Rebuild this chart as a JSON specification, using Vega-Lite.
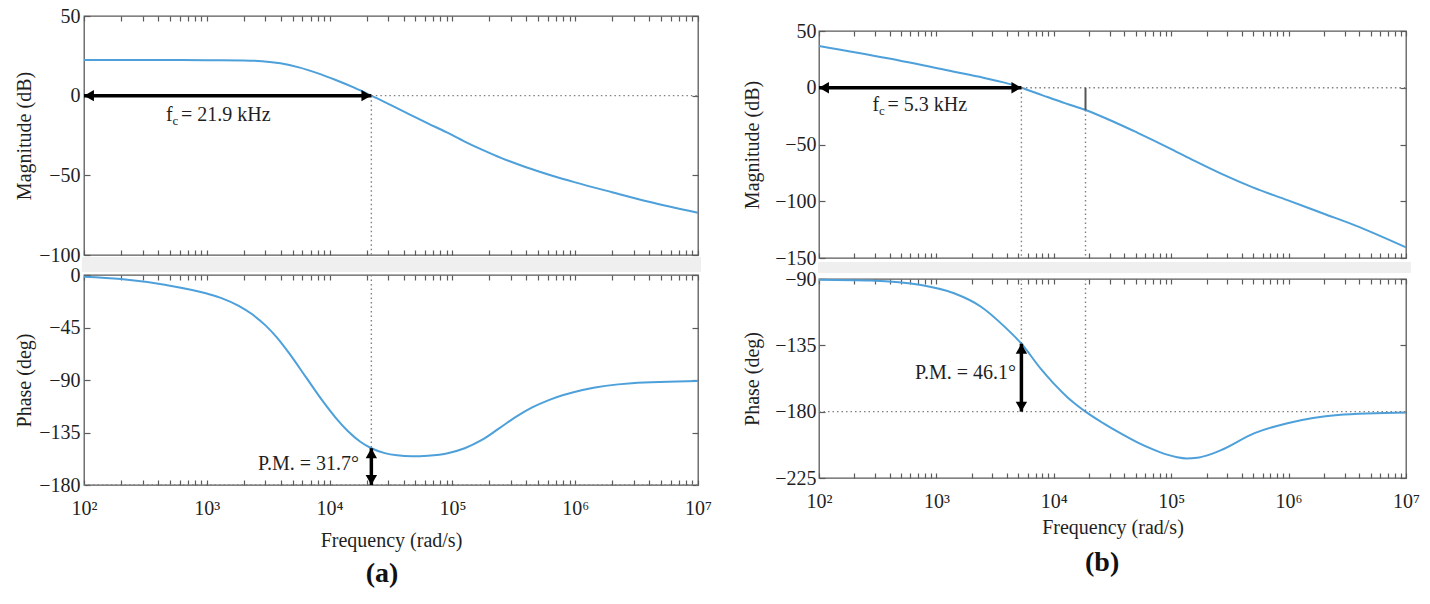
{
"$schema": "https://vega.github.io/schema/vega-lite/v6.json",
"padding": {"left": 14, "top": 5, "right": 5, "bottom": 5},
"background": "white",
"config": {
  "font": "Liberation Serif",
  "view": {"stroke": "#5a5a5a", "strokeWidth": 1.3},
  "axis": {"domain": false, "grid": false, "labelFontSize": 20, "titleFontSize": 20, "titleFontWeight": "normal", "labelColor": "#1f1f1f", "titleColor": "#1f1f1f", "tickColor": "#5a5a5a", "tickWidth": 1.2, "labelFont": "Liberation Serif", "titleFont": "Liberation Serif"},
  "text": {"font": "Liberation Serif"}
},
"datasets": {
  "magA": [
    {"f": 100, "v": 22.4}, {"f": 316, "v": 22.4}, {"f": 1000, "v": 22.3}, {"f": 1995, "v": 22.1}, {"f": 2818, "v": 21.65}, {"f": 3981, "v": 20.3}, {"f": 5623, "v": 17.75}, {"f": 7943, "v": 14.15}, {"f": 11220, "v": 9.8}, {"f": 15849, "v": 5.0}, {"f": 21878, "v": 0}, {"f": 31623, "v": -6.0}, {"f": 44668, "v": -11.7}, {"f": 63096, "v": -17.4}, {"f": 89125, "v": -22.9}, {"f": 125893, "v": -28.8}, {"f": 177828, "v": -34.2}, {"f": 251189, "v": -39.2}, {"f": 398107, "v": -44.9}, {"f": 630957, "v": -49.9}, {"f": 1000000, "v": -54.4}, {"f": 1995262, "v": -60.6}, {"f": 3981072, "v": -66.6}, {"f": 10000000, "v": -73.5}
  ],
  "phA": [
    {"f": 100, "v": -1.4}, {"f": 200, "v": -3.4}, {"f": 468, "v": -8.6}, {"f": 1000, "v": -15.9}, {"f": 1349, "v": -20.2}, {"f": 1820, "v": -26.4}, {"f": 2344, "v": -33.7}, {"f": 3020, "v": -43.4}, {"f": 3715, "v": -53.5}, {"f": 4677, "v": -67}, {"f": 6457, "v": -88}, {"f": 8710, "v": -107.5}, {"f": 11220, "v": -122.4}, {"f": 14125, "v": -133.9}, {"f": 17783, "v": -142.9}, {"f": 21878, "v": -148.5}, {"f": 28184, "v": -152.7}, {"f": 35481, "v": -154.6}, {"f": 46774, "v": -155.4}, {"f": 63096, "v": -154.9}, {"f": 93325, "v": -152.5}, {"f": 125893, "v": -148.5}, {"f": 173780, "v": -141.4}, {"f": 239883, "v": -131.5}, {"f": 331131, "v": -121.4}, {"f": 446684, "v": -113.5}, {"f": 616595, "v": -107}, {"f": 1148154, "v": -98.6}, {"f": 2884032, "v": -92.8}, {"f": 10000000, "v": -90.9}
  ],
  "magB": [
    {"f": 100, "v": 36.8}, {"f": 385, "v": 25.9}, {"f": 1413, "v": 14.1}, {"f": 2512, "v": 8.8}, {"f": 3802, "v": 4.5}, {"f": 5297, "v": 0}, {"f": 7943, "v": -6.5}, {"f": 12589, "v": -13.8}, {"f": 18621, "v": -19.6}, {"f": 31623, "v": -29.5}, {"f": 51286, "v": -39.5}, {"f": 100000, "v": -54}, {"f": 158489, "v": -64.5}, {"f": 263027, "v": -75.5}, {"f": 501187, "v": -88}, {"f": 977237, "v": -99}, {"f": 1995262, "v": -111}, {"f": 3630781, "v": -121}, {"f": 10000000, "v": -140.6}
  ],
  "phB": [
    {"f": 100, "v": -90.5}, {"f": 275, "v": -91.1}, {"f": 741, "v": -94.1}, {"f": 1413, "v": -99.7}, {"f": 2399, "v": -108.8}, {"f": 3802, "v": -122.3}, {"f": 5297, "v": -133.9}, {"f": 7762, "v": -151}, {"f": 10000, "v": -161}, {"f": 13183, "v": -170.5}, {"f": 15849, "v": -175.8}, {"f": 18621, "v": -180}, {"f": 26303, "v": -187.8}, {"f": 37154, "v": -194.8}, {"f": 52481, "v": -201.2}, {"f": 70795, "v": -205.8}, {"f": 89125, "v": -208.8}, {"f": 112202, "v": -210.9}, {"f": 134896, "v": -211.7}, {"f": 165959, "v": -211.3}, {"f": 208930, "v": -209.3}, {"f": 263027, "v": -206.3}, {"f": 512861, "v": -194.6}, {"f": 977237, "v": -187.8}, {"f": 2630268, "v": -182.2}, {"f": 10000000, "v": -180.5}
  ]
},
"hconcat": [
  {
    "title": {"text": "(a)", "orient": "bottom", "anchor": "middle", "frame": "bounds", "fontSize": 28, "fontWeight": "bold", "font": "Liberation Serif", "color": "#111111", "offset": 9, "dx": 19},
    "bounds": "flush",
    "spacing": 20,
    "vconcat": [
      {
        "width": 614, "height": 239,
        "layer": [
          {"data": {"values": [{"f": 96, "f2": 10580000, "v": -101.3, "v2": -110.7}]},
           "mark": {"type": "rect", "color": "#efefef"},
           "encoding": {"x": {"field": "f", "type": "quantitative", "scale": {"type": "log", "domain": [100, 10000000], "nice": false}, "axis": null}, "x2": {"field": "f2"}, "y": {"field": "v", "type": "quantitative", "scale": {"domain": [-100, 50], "nice": false}, "axis": null}, "y2": {"field": "v2"}}},
          {"data": {"name": "magA"},
           "mark": {"type": "line", "color": "#4DA0DA", "strokeWidth": 2, "interpolate": "monotone"},
           "encoding": {
             "x": {"field": "f", "type": "quantitative", "scale": {"type": "log", "domain": [100, 10000000], "nice": false}, "axis": {"orient": "bottom", "values": [100,200,300,400,500,600,700,800,900,1000,2000,3000,4000,5000,6000,7000,8000,9000,10000,20000,30000,40000,50000,60000,70000,80000,90000,100000,200000,300000,400000,500000,600000,700000,800000,900000,1000000,2000000,3000000,4000000,5000000,6000000,7000000,8000000,9000000,10000000], "labels": false, "tickSize": -5, "title": null}},
             "y": {"field": "v", "type": "quantitative", "scale": {"domain": [-100, 50], "nice": false}, "axis": {"orient": "left", "values": [50, 0, -50, -100], "tickSize": -6, "labelPadding": 10, "title": "Magnitude (dB)", "titlePadding": 4}}}},
          {"data": {"values": [{"f": 21878, "f2": 10000000, "v": 0, "v2": 0}, {"f": 21878, "f2": 21878, "v": 0, "v2": -100}]},
           "mark": {"type": "rule", "color": "#808080", "strokeWidth": 1.4, "strokeDash": [1.5, 3]},
           "encoding": {
             "x": {"field": "f", "type": "quantitative", "scale": {"type": "log", "domain": [100, 10000000], "nice": false}, "axis": {"orient": "top", "values": [100,200,300,400,500,600,700,800,900,1000,2000,3000,4000,5000,6000,7000,8000,9000,10000,20000,30000,40000,50000,60000,70000,80000,90000,100000,200000,300000,400000,500000,600000,700000,800000,900000,1000000,2000000,3000000,4000000,5000000,6000000,7000000,8000000,9000000,10000000], "labels": false, "tickSize": -5, "title": null}},
             "x2": {"field": "f2"},
             "y": {"field": "v", "type": "quantitative", "scale": {"domain": [-100, 50], "nice": false}, "axis": {"orient": "right", "values": [50, 0, -50, -100], "labels": false, "tickSize": -6, "title": null}},
             "y2": {"field": "v2"}}},
          {"data": {"values": [{"f": 100, "f2": 21878, "v": 0}]},
           "mark": {"type": "rule", "color": "#000000", "strokeWidth": 3.5},
           "encoding": {"x": {"field": "f", "type": "quantitative", "scale": {"type": "log", "domain": [100, 10000000], "nice": false}, "axis": null}, "x2": {"field": "f2"}, "y": {"field": "v", "type": "quantitative", "scale": {"domain": [-100, 50], "nice": false}, "axis": null}}},
          {"data": {"values": [{"f": 100, "v": 0}]},
           "mark": {"type": "point", "shape": "triangle-left", "filled": true, "color": "#000000", "opacity": 1, "size": 130, "xOffset": 5},
           "encoding": {"x": {"field": "f", "type": "quantitative", "scale": {"type": "log", "domain": [100, 10000000], "nice": false}, "axis": null}, "y": {"field": "v", "type": "quantitative", "scale": {"domain": [-100, 50], "nice": false}, "axis": null}}},
          {"data": {"values": [{"f": 21878, "v": 0}]},
           "mark": {"type": "point", "shape": "triangle-right", "filled": true, "color": "#000000", "opacity": 1, "size": 130, "xOffset": -5},
           "encoding": {"x": {"field": "f", "type": "quantitative", "scale": {"type": "log", "domain": [100, 10000000], "nice": false}, "axis": null}, "y": {"field": "v", "type": "quantitative", "scale": {"domain": [-100, 50], "nice": false}, "axis": null}}},
          {"data": {"values": [{"f": 466, "v": -15.9, "t": "f"}]},
           "mark": {"type": "text", "align": "left", "baseline": "alphabetic", "fontSize": 20, "color": "#1f1f1f"},
           "encoding": {"x": {"field": "f", "type": "quantitative", "scale": {"type": "log", "domain": [100, 10000000], "nice": false}, "axis": null}, "y": {"field": "v", "type": "quantitative", "scale": {"domain": [-100, 50], "nice": false}, "axis": null}, "text": {"field": "t"}}},
          {"data": {"values": [{"f": 466, "v": -15.9, "t": "c"}]},
           "mark": {"type": "text", "align": "left", "baseline": "alphabetic", "fontSize": 13, "dx": 6.5, "dy": 4, "color": "#1f1f1f"},
           "encoding": {"x": {"field": "f", "type": "quantitative", "scale": {"type": "log", "domain": [100, 10000000], "nice": false}, "axis": null}, "y": {"field": "v", "type": "quantitative", "scale": {"domain": [-100, 50], "nice": false}, "axis": null}, "text": {"field": "t"}}},
          {"data": {"values": [{"f": 466, "v": -15.9, "t": "= 21.9 kHz"}]},
           "mark": {"type": "text", "align": "left", "baseline": "alphabetic", "fontSize": 20, "dx": 15, "color": "#1f1f1f"},
           "encoding": {"x": {"field": "f", "type": "quantitative", "scale": {"type": "log", "domain": [100, 10000000], "nice": false}, "axis": null}, "y": {"field": "v", "type": "quantitative", "scale": {"domain": [-100, 50], "nice": false}, "axis": null}, "text": {"field": "t"}}}
        ]
      },
      {
        "width": 614, "height": 210,
        "layer": [
          {"data": {"name": "phA"},
           "mark": {"type": "line", "color": "#4DA0DA", "strokeWidth": 2, "interpolate": "monotone"},
           "encoding": {
             "x": {"field": "f", "type": "quantitative", "scale": {"type": "log", "domain": [100, 10000000], "nice": false}, "axis": {"orient": "bottom", "values": [100,200,300,400,500,600,700,800,900,1000,2000,3000,4000,5000,6000,7000,8000,9000,10000,20000,30000,40000,50000,60000,70000,80000,90000,100000,200000,300000,400000,500000,600000,700000,800000,900000,1000000,2000000,3000000,4000000,5000000,6000000,7000000,8000000,9000000,10000000], "tickSize": -5, "labelPadding": 18, "labelFlush": false, "labelOverlap": false, "labelExpr": "datum.value == 100 ? '10²' : datum.value == 1000 ? '10³' : datum.value == 10000 ? '10⁴' : datum.value == 100000 ? '10⁵' : datum.value == 1000000 ? '10⁶' : datum.value == 10000000 ? '10⁷' : ''", "title": "Frequency (rad/s)", "titlePadding": 12}},
             "y": {"field": "v", "type": "quantitative", "scale": {"domain": [-180, 0], "nice": false}, "axis": {"orient": "left", "values": [0, -45, -90, -135, -180], "tickSize": -6, "labelPadding": 10, "title": "Phase (deg)", "titlePadding": 4}}}},
          {"data": {"values": [{"f": 21878, "f2": 21878, "v": 0, "v2": -148.5}, {"f": 100, "f2": 10000000, "v": -180, "v2": -180}]},
           "mark": {"type": "rule", "color": "#808080", "strokeWidth": 1.4, "strokeDash": [1.5, 3]},
           "encoding": {
             "x": {"field": "f", "type": "quantitative", "scale": {"type": "log", "domain": [100, 10000000], "nice": false}, "axis": {"orient": "top", "values": [100,200,300,400,500,600,700,800,900,1000,2000,3000,4000,5000,6000,7000,8000,9000,10000,20000,30000,40000,50000,60000,70000,80000,90000,100000,200000,300000,400000,500000,600000,700000,800000,900000,1000000,2000000,3000000,4000000,5000000,6000000,7000000,8000000,9000000,10000000], "labels": false, "tickSize": -5, "title": null}},
             "x2": {"field": "f2"},
             "y": {"field": "v", "type": "quantitative", "scale": {"domain": [-180, 0], "nice": false}, "axis": {"orient": "right", "values": [0, -45, -90, -135, -180], "labels": false, "tickSize": -6, "title": null}},
             "y2": {"field": "v2"}}},
          {"data": {"values": [{"f": 21878, "v": -148.5, "v2": -180}]},
           "mark": {"type": "rule", "color": "#000000", "strokeWidth": 3.5},
           "encoding": {"x": {"field": "f", "type": "quantitative", "scale": {"type": "log", "domain": [100, 10000000], "nice": false}, "axis": null}, "y": {"field": "v", "type": "quantitative", "scale": {"domain": [-180, 0], "nice": false}, "axis": null}, "y2": {"field": "v2"}}},
          {"data": {"values": [{"f": 21878, "v": -148.5}]},
           "mark": {"type": "point", "shape": "triangle-up", "filled": true, "color": "#000000", "opacity": 1, "size": 130, "yOffset": 5},
           "encoding": {"x": {"field": "f", "type": "quantitative", "scale": {"type": "log", "domain": [100, 10000000], "nice": false}, "axis": null}, "y": {"field": "v", "type": "quantitative", "scale": {"domain": [-180, 0], "nice": false}, "axis": null}}},
          {"data": {"values": [{"f": 21878, "v": -180}]},
           "mark": {"type": "point", "shape": "triangle-down", "filled": true, "color": "#000000", "opacity": 1, "size": 130, "yOffset": -5},
           "encoding": {"x": {"field": "f", "type": "quantitative", "scale": {"type": "log", "domain": [100, 10000000], "nice": false}, "axis": null}, "y": {"field": "v", "type": "quantitative", "scale": {"domain": [-180, 0], "nice": false}, "axis": null}}},
          {"data": {"values": [{"f": 17340, "v": -167.1, "t": "P.M. = 31.7°"}]},
           "mark": {"type": "text", "align": "right", "baseline": "alphabetic", "fontSize": 20, "color": "#1f1f1f"},
           "encoding": {"x": {"field": "f", "type": "quantitative", "scale": {"type": "log", "domain": [100, 10000000], "nice": false}, "axis": null}, "y": {"field": "v", "type": "quantitative", "scale": {"domain": [-180, 0], "nice": false}, "axis": null}, "text": {"field": "t"}}}
        ]
      }
    ]
  },
  {
    "title": {"text": "(b)", "orient": "bottom", "anchor": "middle", "frame": "bounds", "fontSize": 28, "fontWeight": "bold", "font": "Liberation Serif", "color": "#111111", "offset": 11, "dx": 21},
    "bounds": "flush",
    "spacing": 14,
    "vconcat": [
      {"width": 587, "height": 1, "view": {"stroke": null}, "data": {"values": [{"f": 1}]}, "mark": {"type": "point", "opacity": 0}, "encoding": {}},
      {
        "bounds": "flush",
        "spacing": 21,
        "vconcat": [
          {
            "width": 587, "height": 227,
            "layer": [
              {"data": {"values": [{"f": 98, "f2": 11000000, "v": -153.5, "v2": -163.2}]},
               "mark": {"type": "rect", "color": "#efefef"},
               "encoding": {"x": {"field": "f", "type": "quantitative", "scale": {"type": "log", "domain": [100, 10000000], "nice": false}, "axis": null}, "x2": {"field": "f2"}, "y": {"field": "v", "type": "quantitative", "scale": {"domain": [-150, 50], "nice": false}, "axis": null}, "y2": {"field": "v2"}}},
              {"data": {"name": "magB"},
               "mark": {"type": "line", "color": "#4DA0DA", "strokeWidth": 2, "interpolate": "monotone"},
               "encoding": {
                 "x": {"field": "f", "type": "quantitative", "scale": {"type": "log", "domain": [100, 10000000], "nice": false}, "axis": {"orient": "bottom", "values": [100,200,300,400,500,600,700,800,900,1000,2000,3000,4000,5000,6000,7000,8000,9000,10000,20000,30000,40000,50000,60000,70000,80000,90000,100000,200000,300000,400000,500000,600000,700000,800000,900000,1000000,2000000,3000000,4000000,5000000,6000000,7000000,8000000,9000000,10000000], "labels": false, "tickSize": -5, "title": null}},
                 "y": {"field": "v", "type": "quantitative", "scale": {"domain": [-150, 50], "nice": false}, "axis": {"orient": "left", "values": [50, 0, -50, -100, -150], "tickSize": -6, "labelPadding": 9, "title": "Magnitude (dB)", "titlePadding": 12}}}},
              {"data": {"values": [{"f": 5297, "f2": 10000000, "v": 0, "v2": 0}, {"f": 5297, "f2": 5297, "v": 0, "v2": -150}, {"f": 18621, "f2": 18621, "v": -19.6, "v2": -150}]},
               "mark": {"type": "rule", "color": "#808080", "strokeWidth": 1.4, "strokeDash": [1.5, 3]},
               "encoding": {
                 "x": {"field": "f", "type": "quantitative", "scale": {"type": "log", "domain": [100, 10000000], "nice": false}, "axis": {"orient": "top", "values": [100,200,300,400,500,600,700,800,900,1000,2000,3000,4000,5000,6000,7000,8000,9000,10000,20000,30000,40000,50000,60000,70000,80000,90000,100000,200000,300000,400000,500000,600000,700000,800000,900000,1000000,2000000,3000000,4000000,5000000,6000000,7000000,8000000,9000000,10000000], "labels": false, "tickSize": -5, "title": null}},
                 "x2": {"field": "f2"},
                 "y": {"field": "v", "type": "quantitative", "scale": {"domain": [-150, 50], "nice": false}, "axis": {"orient": "right", "values": [50, 0, -50, -100, -150], "labels": false, "tickSize": -6, "title": null}},
                 "y2": {"field": "v2"}}},
              {"data": {"values": [{"f": 18621, "v": 0, "v2": -19.6}]},
               "mark": {"type": "rule", "color": "#555555", "strokeWidth": 2},
               "encoding": {"x": {"field": "f", "type": "quantitative", "scale": {"type": "log", "domain": [100, 10000000], "nice": false}, "axis": null}, "y": {"field": "v", "type": "quantitative", "scale": {"domain": [-150, 50], "nice": false}, "axis": null}, "y2": {"field": "v2"}}},
              {"data": {"values": [{"f": 100, "f2": 5297, "v": 0}]},
               "mark": {"type": "rule", "color": "#000000", "strokeWidth": 3.5},
               "encoding": {"x": {"field": "f", "type": "quantitative", "scale": {"type": "log", "domain": [100, 10000000], "nice": false}, "axis": null}, "x2": {"field": "f2"}, "y": {"field": "v", "type": "quantitative", "scale": {"domain": [-150, 50], "nice": false}, "axis": null}}},
              {"data": {"values": [{"f": 100, "v": 0}]},
               "mark": {"type": "point", "shape": "triangle-left", "filled": true, "color": "#000000", "opacity": 1, "size": 130, "xOffset": 5},
               "encoding": {"x": {"field": "f", "type": "quantitative", "scale": {"type": "log", "domain": [100, 10000000], "nice": false}, "axis": null}, "y": {"field": "v", "type": "quantitative", "scale": {"domain": [-150, 50], "nice": false}, "axis": null}}},
              {"data": {"values": [{"f": 5297, "v": 0}]},
               "mark": {"type": "point", "shape": "triangle-right", "filled": true, "color": "#000000", "opacity": 1, "size": 130, "xOffset": -5},
               "encoding": {"x": {"field": "f", "type": "quantitative", "scale": {"type": "log", "domain": [100, 10000000], "nice": false}, "axis": null}, "y": {"field": "v", "type": "quantitative", "scale": {"domain": [-150, 50], "nice": false}, "axis": null}}},
              {"data": {"values": [{"f": 286, "v": -20.5, "t": "f"}]},
               "mark": {"type": "text", "align": "left", "baseline": "alphabetic", "fontSize": 20, "color": "#1f1f1f"},
               "encoding": {"x": {"field": "f", "type": "quantitative", "scale": {"type": "log", "domain": [100, 10000000], "nice": false}, "axis": null}, "y": {"field": "v", "type": "quantitative", "scale": {"domain": [-150, 50], "nice": false}, "axis": null}, "text": {"field": "t"}}},
              {"data": {"values": [{"f": 286, "v": -20.5, "t": "c"}]},
               "mark": {"type": "text", "align": "left", "baseline": "alphabetic", "fontSize": 13, "dx": 6.5, "dy": 4, "color": "#1f1f1f"},
               "encoding": {"x": {"field": "f", "type": "quantitative", "scale": {"type": "log", "domain": [100, 10000000], "nice": false}, "axis": null}, "y": {"field": "v", "type": "quantitative", "scale": {"domain": [-150, 50], "nice": false}, "axis": null}, "text": {"field": "t"}}},
              {"data": {"values": [{"f": 286, "v": -20.5, "t": "= 5.3 kHz"}]},
               "mark": {"type": "text", "align": "left", "baseline": "alphabetic", "fontSize": 20, "dx": 15, "color": "#1f1f1f"},
               "encoding": {"x": {"field": "f", "type": "quantitative", "scale": {"type": "log", "domain": [100, 10000000], "nice": false}, "axis": null}, "y": {"field": "v", "type": "quantitative", "scale": {"domain": [-150, 50], "nice": false}, "axis": null}, "text": {"field": "t"}}}
            ]
          },
          {
            "width": 587, "height": 199,
            "layer": [
              {"data": {"name": "phB"},
               "mark": {"type": "line", "color": "#4DA0DA", "strokeWidth": 2, "interpolate": "monotone"},
               "encoding": {
                 "x": {"field": "f", "type": "quantitative", "scale": {"type": "log", "domain": [100, 10000000], "nice": false}, "axis": {"orient": "bottom", "values": [100,200,300,400,500,600,700,800,900,1000,2000,3000,4000,5000,6000,7000,8000,9000,10000,20000,30000,40000,50000,60000,70000,80000,90000,100000,200000,300000,400000,500000,600000,700000,800000,900000,1000000,2000000,3000000,4000000,5000000,6000000,7000000,8000000,9000000,10000000], "tickSize": -5, "labelPadding": 18, "labelFlush": false, "labelOverlap": false, "labelExpr": "datum.value == 100 ? '10²' : datum.value == 1000 ? '10³' : datum.value == 10000 ? '10⁴' : datum.value == 100000 ? '10⁵' : datum.value == 1000000 ? '10⁶' : datum.value == 10000000 ? '10⁷' : ''", "title": "Frequency (rad/s)", "titlePadding": 6}},
                 "y": {"field": "v", "type": "quantitative", "scale": {"domain": [-225, -90], "nice": false}, "axis": {"orient": "left", "values": [-90, -135, -180, -225], "tickSize": -6, "labelPadding": 9, "title": "Phase (deg)", "titlePadding": 12}}}},
              {"data": {"values": [{"f": 5297, "f2": 5297, "v": -90, "v2": -133.9}, {"f": 18621, "f2": 18621, "v": -90, "v2": -180}, {"f": 100, "f2": 10000000, "v": -180, "v2": -180}]},
               "mark": {"type": "rule", "color": "#808080", "strokeWidth": 1.4, "strokeDash": [1.5, 3]},
               "encoding": {
                 "x": {"field": "f", "type": "quantitative", "scale": {"type": "log", "domain": [100, 10000000], "nice": false}, "axis": {"orient": "top", "values": [100,200,300,400,500,600,700,800,900,1000,2000,3000,4000,5000,6000,7000,8000,9000,10000,20000,30000,40000,50000,60000,70000,80000,90000,100000,200000,300000,400000,500000,600000,700000,800000,900000,1000000,2000000,3000000,4000000,5000000,6000000,7000000,8000000,9000000,10000000], "labels": false, "tickSize": -5, "title": null}},
                 "x2": {"field": "f2"},
                 "y": {"field": "v", "type": "quantitative", "scale": {"domain": [-225, -90], "nice": false}, "axis": {"orient": "right", "values": [-90, -135, -180, -225], "labels": false, "tickSize": -6, "title": null}},
                 "y2": {"field": "v2"}}},
              {"data": {"values": [{"f": 5297, "v": -133.9, "v2": -180}]},
               "mark": {"type": "rule", "color": "#000000", "strokeWidth": 3.5},
               "encoding": {"x": {"field": "f", "type": "quantitative", "scale": {"type": "log", "domain": [100, 10000000], "nice": false}, "axis": null}, "y": {"field": "v", "type": "quantitative", "scale": {"domain": [-225, -90], "nice": false}, "axis": null}, "y2": {"field": "v2"}}},
              {"data": {"values": [{"f": 5297, "v": -133.9}]},
               "mark": {"type": "point", "shape": "triangle-up", "filled": true, "color": "#000000", "opacity": 1, "size": 130, "yOffset": 5},
               "encoding": {"x": {"field": "f", "type": "quantitative", "scale": {"type": "log", "domain": [100, 10000000], "nice": false}, "axis": null}, "y": {"field": "v", "type": "quantitative", "scale": {"domain": [-225, -90], "nice": false}, "axis": null}}},
              {"data": {"values": [{"f": 5297, "v": -180}]},
               "mark": {"type": "point", "shape": "triangle-down", "filled": true, "color": "#000000", "opacity": 1, "size": 130, "yOffset": -5},
               "encoding": {"x": {"field": "f", "type": "quantitative", "scale": {"type": "log", "domain": [100, 10000000], "nice": false}, "axis": null}, "y": {"field": "v", "type": "quantitative", "scale": {"domain": [-225, -90], "nice": false}, "axis": null}}},
              {"data": {"values": [{"f": 4764, "v": -157.8, "t": "P.M. = 46.1°"}]},
               "mark": {"type": "text", "align": "right", "baseline": "alphabetic", "fontSize": 20, "color": "#1f1f1f"},
               "encoding": {"x": {"field": "f", "type": "quantitative", "scale": {"type": "log", "domain": [100, 10000000], "nice": false}, "axis": null}, "y": {"field": "v", "type": "quantitative", "scale": {"domain": [-225, -90], "nice": false}, "axis": null}, "text": {"field": "t"}}}
            ]
          }
        ]
      }
    ]
  }
],
"spacing": 29
}
